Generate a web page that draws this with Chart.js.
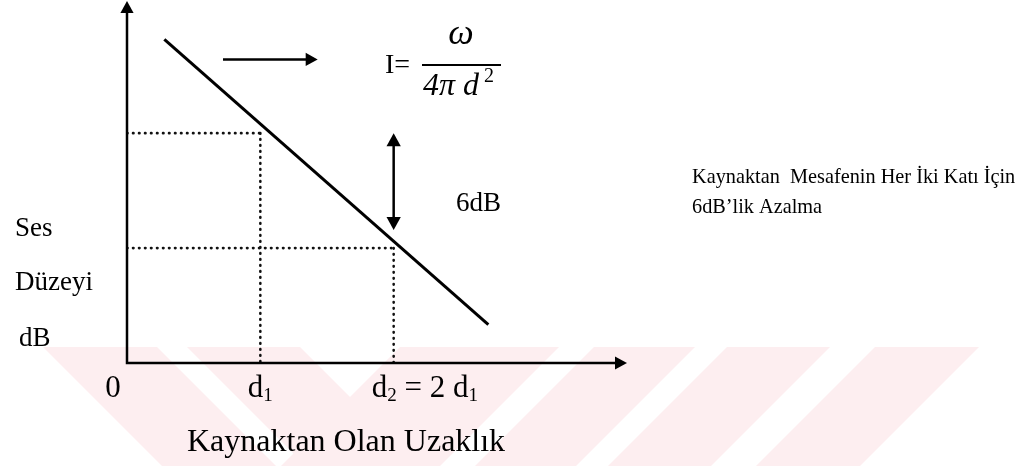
<!DOCTYPE html>
<html>
<head>
<meta charset="utf-8">
<script src="https://cdn.jsdelivr.net/npm/chart.js@4.4.0/dist/chart.umd.min.js"></script>
<style>
  html, body { margin: 0; padding: 0; background: #fff; }
  #wrap { width: 1025px; height: 466px; position: relative; }
</style>
</head>
<body>
<div id="wrap"><canvas id="chart-line"></canvas></div>
<script>
// distance axis: 0, d1, d2 = 2 d1 (in units of d1)
var distances = [1, 2];
// sound level (dB) at d1 and d2: 6 dB drop per doubling
var levels = [12, 6];
// the falling level line (start, end)
var lineX = [0.28, 2.71];
var lineY = [16.9, 2.0];
// x tick labels, as [text, subscript] parts
var xTickValues = [0, 1, 2];
var xTickLabels = [
    [["0", ""]],
    [["d", "1"]],
    [["d", "2"], [" = 2 d", "1"]]
];
var xTitle = "Kaynaktan Olan Uzaklık";
var yTitle = ["Ses", "Düzeyi", "dB"];
var dropLabel = "6dB";
var noteLines = ["Kaynaktan  Mesafenin Her İki Katı İçin", "6dB’lik Azalma"];

var SERIF = '"Liberation Serif", "Times New Roman", serif';
var dotted = [0.5, 5.5];

function guide(points) {
    return {
        data: points,
        borderColor: "#111",
        borderWidth: 2.6,
        borderDash: dotted,
        borderCapStyle: "round",
        pointRadius: 0,
        fill: false,
        tension: 0
    };
}

var datasets = [
    {
        data: lineX.map(function (x, i) { return { x: x, y: lineY[i] }; }),
        borderColor: "#000",
        borderWidth: 3,
        pointRadius: 0,
        fill: false,
        tension: 0
    }
];
distances.forEach(function (d, i) {
    datasets.push(guide([{ x: 0, y: levels[i] }, { x: d, y: levels[i] }]));
    datasets.push(guide([{ x: d, y: levels[i] }, { x: d, y: 0 }]));
});

function arrowHead(ctx, x, y, dir, size) {
    // dir: angle the arrow points to
    ctx.save();
    ctx.translate(x, y);
    ctx.rotate(dir);
    ctx.beginPath();
    ctx.moveTo(0, 0);
    ctx.lineTo(-size, -size * 0.55);
    ctx.lineTo(-size, size * 0.55);
    ctx.closePath();
    ctx.fill();
    ctx.restore();
}

function partsText(ctx, parts, x, y, size) {
    // draws text with subscripts, starting at x
    var cx = x;
    parts.forEach(function (p) {
        ctx.font = size + "px " + SERIF;
        ctx.fillText(p[0], cx, y);
        cx += ctx.measureText(p[0]).width;
        if (p[1]) {
            ctx.font = Math.round(size * 0.62) + "px " + SERIF;
            ctx.fillText(p[1], cx, y + size * 0.14);
            cx += ctx.measureText(p[1]).width;
        }
    });
    return cx - x;
}

function partsWidth(ctx, parts, size) {
    var w = 0;
    parts.forEach(function (p) {
        ctx.font = size + "px " + SERIF;
        w += ctx.measureText(p[0]).width;
        if (p[1]) {
            ctx.font = Math.round(size * 0.62) + "px " + SERIF;
            w += ctx.measureText(p[1]).width;
        }
    });
    return w;
}

var watermark = {
    id: "watermark",
    beforeDatasetsDraw: function (chart) {
        var ctx = chart.ctx;
        var top = 347, bot = chart.height;
        var h = bot - top;
        // faint chevron bands of the scanned page background
        var bands = [
            [43, 157, 1], [187, 300, 1],
            [400, 559, -1], [594, 695, -1], [727, 830, -1], [875, 979, -1]
        ];
        ctx.save();
        ctx.fillStyle = "#fdeef0";
        bands.forEach(function (b) {
            var s = b[2] * h;
            ctx.beginPath();
            ctx.moveTo(b[0], top);
            ctx.lineTo(b[1], top);
            ctx.lineTo(b[1] + s, bot);
            ctx.lineTo(b[0] + s, bot);
            ctx.closePath();
            ctx.fill();
        });
        ctx.restore();
    }
};

var sketch = {
    id: "sketch",
    afterDatasetsDraw: function (chart) {
        var ctx = chart.ctx;
        var xs = chart.scales.x, ys = chart.scales.y;
        var x0 = xs.getPixelForValue(0), y0 = ys.getPixelForValue(0);
        var xEnd = xs.getPixelForValue(xs.max), yEnd = ys.getPixelForValue(ys.max);
        ctx.save();
        ctx.strokeStyle = "#000";
        ctx.fillStyle = "#000";
        ctx.lineWidth = 2.5;

        // axes with arrowheads
        ctx.beginPath();
        ctx.moveTo(x0, yEnd + 8);
        ctx.lineTo(x0, y0);
        ctx.lineTo(xEnd - 8, y0);
        ctx.stroke();
        arrowHead(ctx, x0, yEnd, -Math.PI / 2, 12);
        arrowHead(ctx, xEnd, y0, 0, 12);

        // direction arrow
        var ay = ys.getPixelForValue(15.85);
        var ax1 = xs.getPixelForValue(0.72), ax2 = xs.getPixelForValue(1.43);
        ctx.beginPath();
        ctx.moveTo(ax1, ay);
        ctx.lineTo(ax2 - 8, ay);
        ctx.stroke();
        arrowHead(ctx, ax2, ay, 0, 12);

        // double arrow: 6 dB drop
        var dx = xs.getPixelForValue(distances[1]);
        var dTop = ys.getPixelForValue(levels[0]), dBot = ys.getPixelForValue(6.95);
        ctx.beginPath();
        ctx.moveTo(dx, dTop + 8);
        ctx.lineTo(dx, dBot - 8);
        ctx.stroke();
        arrowHead(ctx, dx, dTop, -Math.PI / 2, 13);
        arrowHead(ctx, dx, dBot, Math.PI / 2, 13);

        // x tick labels
        ctx.textBaseline = "alphabetic";
        ctx.textAlign = "left";
        var tickSize = 31;
        xTickValues.forEach(function (v, i) {
            var px = xs.getPixelForValue(v);
            var w = partsWidth(ctx, xTickLabels[i], tickSize);
            var start = px - w / 2;
            if (i === 0) start = px - 14 - w / 2;
            if (i === 2) start = px - 22;
            partsText(ctx, xTickLabels[i], start, y0 + 34, tickSize);
        });

        // axis titles
        ctx.font = "32px " + SERIF;
        ctx.fillText(xTitle, 187, 451);
        ctx.font = "27px " + SERIF;
        ctx.fillText(yTitle[0], 15, 236);
        ctx.fillText(yTitle[1], 15, 290);
        ctx.fillText(yTitle[2], 19, 346);

        // 6dB label and note
        ctx.font = "27px " + SERIF;
        ctx.fillText(dropLabel, 456, 211);
        ctx.font = "20.3px " + SERIF;
        ctx.fillText(noteLines[0], 692, 183);
        ctx.fillText(noteLines[1], 692, 213);

        // formula I = w / (4 pi d^2)
        ctx.font = "28px " + SERIF;
        ctx.fillText("I=", 385, 73);
        ctx.lineWidth = 2;
        ctx.beginPath();
        ctx.moveTo(422, 65);
        ctx.lineTo(501, 65);
        ctx.stroke();
        ctx.font = "italic 36px " + SERIF;
        ctx.textAlign = "center";
        ctx.fillText("ω", 461, 44);
        ctx.textAlign = "left";
        ctx.font = "italic 32px " + SERIF;
        ctx.fillText("4π d", 423, 95);
        ctx.font = "20px " + SERIF;
        ctx.fillText("2", 484, 82);
        ctx.restore();
    }
};

var ctx = document.getElementById("chart-line").getContext("2d");

new Chart(ctx, {
    type: "line",
    data: { datasets: datasets },
    options: {
        responsive: true,
        maintainAspectRatio: false,
        animation: false,
        layout: {
            padding: { left: 127, right: 398, top: 1, bottom: 103 }
        },
        plugins: {
            legend: { display: false },
            tooltip: { enabled: false }
        },
        scales: {
            x: { type: "linear", min: 0, max: 3.75, display: false },
            y: { type: "linear", min: 0, max: 18.9, display: false }
        }
    },
    plugins: [watermark, sketch]
});
</script>
</body>
</html>
